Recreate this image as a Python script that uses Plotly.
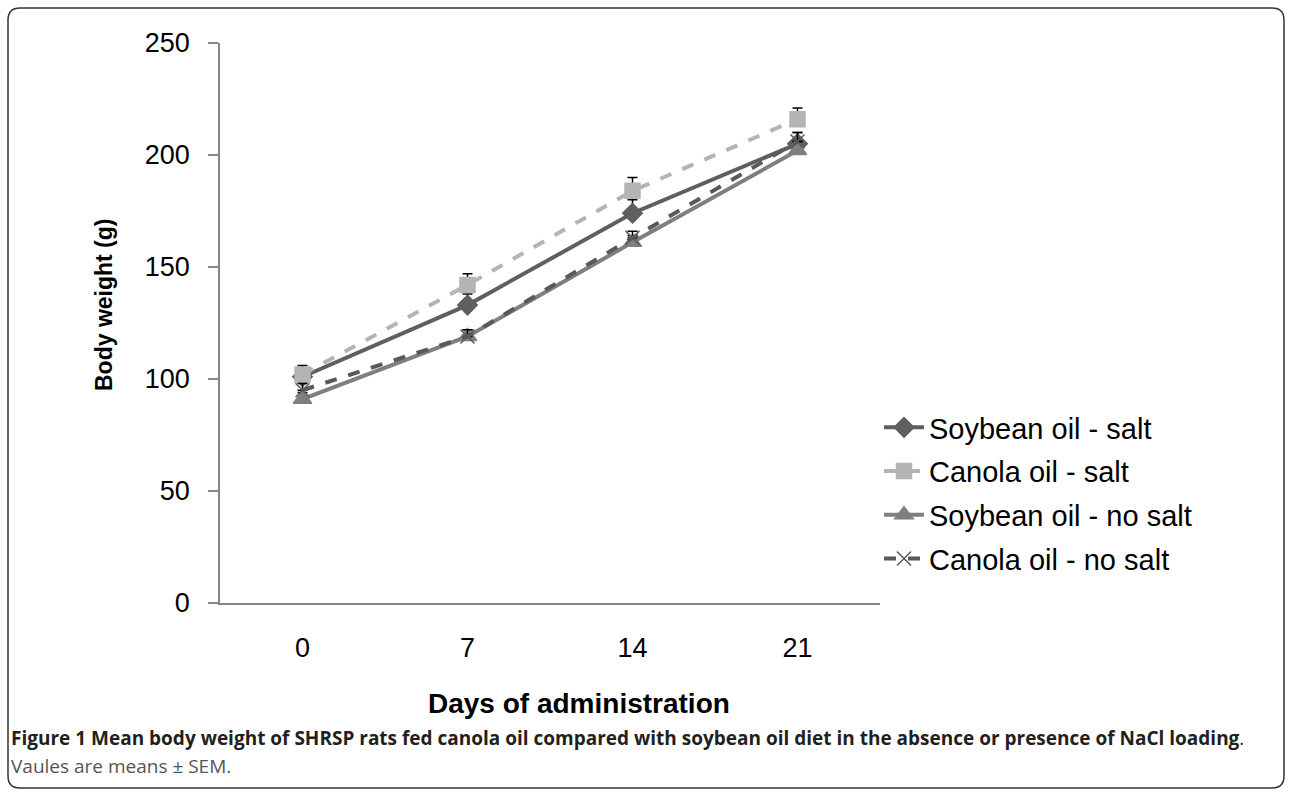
import plotly.graph_objects as go

# ---- data ----
days = ["0", "7", "14", "21"]
soy_salt = [101, 133, 174, 205]
can_salt = [102, 142, 184, 216]
soy_nosalt = [91, 119, 161, 202]
can_nosalt = [95, 119, 163, 206]
soy_salt_err = [4, 5, 6, 5]
can_salt_err = [4, 5, 6, 5]
soy_nosalt_err = [3, 3, 3, 4]
can_nosalt_err = [3, 3, 3, 4]
yticks = [0, 50, 100, 150, 200, 250]

W, H = 1292, 795
L, R, T, B = 220, 880, 43, 603


def px(x):
    return (x - L) / (R - L)


def py(y):
    return (B - y) / (B - T)


fig = go.Figure()

series = [
    ("Soybean oil - salt", soy_salt, soy_salt_err, "#5f5f5f", "solid", "diamond", 15),
    ("Canola oil - salt", can_salt, can_salt_err, "#b4b4b4", "dash", "square", 15),
    ("Soybean oil - no salt", soy_nosalt, soy_nosalt_err, "#7f7f7f", "solid", "triangle-up", 16),
    ("Canola oil - no salt", can_nosalt, can_nosalt_err, "#595959", "dash", "x-thin-open", 14),
]

for i, (name, vals, err, col, dash, sym, sz) in enumerate(series):
    fig.add_trace(go.Scatter(
        x=days, y=vals, name=name, mode="lines+markers",
        legendgroup=f"g{i}",
        line=dict(color=col, width=4, dash=dash),
        marker=dict(symbol=sym, size=sz, color=col,
                    line=dict(color=col, width=1.5)),
        error_y=dict(type="data", array=err, arrayminus=[0] * len(err),
                     symmetric=False, color="black", thickness=1.5, width=5),
    ))

fig.update_layout(
    width=W, height=H,
    margin=dict(l=L, r=W - R, t=T, b=H - B, pad=0),
    paper_bgcolor="white", plot_bgcolor="white",
    font=dict(family="Liberation Sans, Arial, sans-serif", color="black"),
    showlegend=True,
    legend=dict(x=px(879), y=py(402), xanchor="left", yanchor="top",
                font=dict(size=29, color="black"), tracegroupgap=3,
                bgcolor="rgba(0,0,0,0)", itemwidth=40),
    xaxis=dict(type="category", categoryorder="array", categoryarray=days,
               range=[-0.5, 3.5], showline=True, linecolor="#868686",
               linewidth=1.5, ticks="", showgrid=False, zeroline=False,
               tickfont=dict(size=27), ticklabelstandoff=20),
    yaxis=dict(range=[0, 250], tickvals=yticks, showline=True,
               linecolor="#868686", linewidth=1.5, ticks="outside",
               ticklen=10, tickcolor="#868686", tickwidth=1.5,
               showgrid=False, zeroline=False, tickfont=dict(size=27),
               ticklabelstandoff=13),
)

fig.add_annotation(x=px(579), y=py(703), xref="paper", yref="paper",
                   text="<b>Days of administration</b>", showarrow=False,
                   font=dict(size=28), xanchor="center", yanchor="middle")
fig.add_annotation(x=px(104), y=py(305), xref="paper", yref="paper",
                   text="<b>Body weight (g)</b>", showarrow=False, textangle=-90,
                   font=dict(size=23), xanchor="center", yanchor="middle")

cap_font = "Open Sans, Noto Sans, sans-serif"
fig.add_annotation(x=px(9), y=py(738), xref="paper", yref="paper",
                   text="<b>Figure 1 Mean body weight of SHRSP rats fed canola oil compared with soybean oil diet in the absence or presence of NaCl loading</b>.",
                   showarrow=False, xanchor="left", yanchor="middle",
                   font=dict(size=19, family=cap_font, color="#231f20"))
fig.add_annotation(x=px(9), y=py(766), xref="paper", yref="paper",
                   text="Vaules are means ± SEM.",
                   showarrow=False, xanchor="left", yanchor="middle",
                   font=dict(size=19, family=cap_font, color="#555555"))

# rounded border
x0, y0, x1, y1, r = 8, 8, 1284, 788, 12
path = (f"M {px(x0 + r)},{py(y0)} L {px(x1 - r)},{py(y0)} "
        f"Q {px(x1)},{py(y0)} {px(x1)},{py(y0 + r)} "
        f"L {px(x1)},{py(y1 - r)} Q {px(x1)},{py(y1)} {px(x1 - r)},{py(y1)} "
        f"L {px(x0 + r)},{py(y1)} Q {px(x0)},{py(y1)} {px(x0)},{py(y1 - r)} "
        f"L {px(x0)},{py(y0 + r)} Q {px(x0)},{py(y0)} {px(x0 + r)},{py(y0)} Z")
fig.add_shape(type="path", path=path, xref="paper", yref="paper",
              line=dict(color="#333333", width=1.5), layer="below")

fig.write_html("out.html")
